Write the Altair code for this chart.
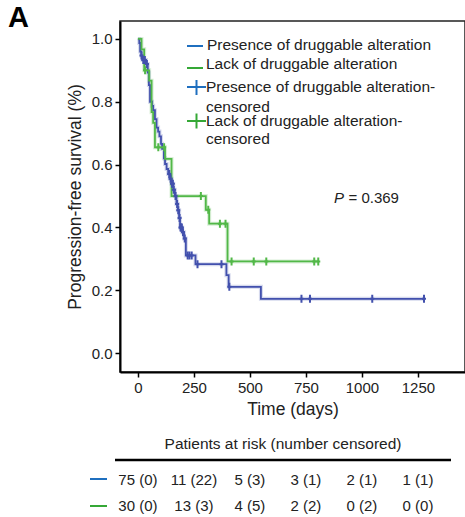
import altair as alt
import pandas as pd

# ---- Kaplan-Meier step curves ----
blue_time = [0, 6, 10, 15, 21, 36, 44, 49, 54, 63, 68, 76, 83, 90, 96, 103, 108, 116, 121, 128,
             135, 142, 150, 158, 165, 172, 178, 184, 188, 198, 206, 214, 257, 395, 405, 549, 1277]
blue_surv = [1.0, 0.987, 0.96, 0.947, 0.933, 0.92, 0.893, 0.853, 0.8, 0.787, 0.773, 0.745, 0.718,
             0.705, 0.69, 0.666, 0.65, 0.62, 0.602, 0.586, 0.57, 0.555, 0.539, 0.52, 0.50, 0.475,
             0.455, 0.43, 0.40, 0.385, 0.365, 0.311, 0.283, 0.248, 0.211, 0.173, 0.173]

green_time = [0, 16, 28, 50, 61, 68, 76, 121, 150, 303, 318, 400, 805]
green_surv = [1.0, 0.967, 0.9, 0.867, 0.767, 0.733, 0.655, 0.618, 0.5, 0.456, 0.412, 0.292, 0.292]

# ---- censored observations ----
blue_cens_time = [16, 24, 27, 31, 40, 140, 146, 152, 156, 160, 168, 175, 180, 186, 190, 193, 196,
                  201, 209, 222, 230, 240, 266, 373, 408, 730, 768, 1046, 1277]
blue_cens_surv = [0.947, 0.933, 0.933, 0.933, 0.92, 0.57, 0.555, 0.539, 0.539, 0.52, 0.50, 0.475,
                  0.455, 0.43, 0.40, 0.40, 0.40, 0.385, 0.365, 0.311, 0.311, 0.311, 0.283, 0.283,
                  0.211, 0.173, 0.173, 0.173, 0.173]

green_cens_time = [32, 91, 117, 281, 314, 366, 391, 418, 517, 573, 787, 805]
green_cens_surv = [0.9, 0.655, 0.655, 0.5, 0.456, 0.412, 0.412, 0.292, 0.292, 0.292, 0.292, 0.292]

# ---- patients at risk table ----
risk_times = [0, 250, 500, 750, 1000, 1250]
risk_presence = ["75 (0)", "11 (22)", "5 (3)", "3 (1)", "2 (1)", "1 (1)"]
risk_lack = ["30 (0)", "13 (3)", "4 (5)", "2 (2)", "0 (2)", "0 (0)"]

series_names = ["Presence", "Lack"]
curve_colors = ["#4250ad", "#52b848"]
legend_blue = "#1f6fbf"
legend_green = "#35a836"
FONT = "Liberation Sans"
TXT = "#222222"

curves = pd.concat([
    pd.DataFrame({"time": blue_time, "surv": blue_surv, "group": "Presence"}),
    pd.DataFrame({"time": green_time, "surv": green_surv, "group": "Lack"}),
])
cens = pd.concat([
    pd.DataFrame({"time": blue_cens_time, "surv": blue_cens_surv, "group": "Presence"}),
    pd.DataFrame({"time": green_cens_time, "surv": green_cens_surv, "group": "Lack"}),
])
risk = pd.concat([
    pd.DataFrame({"time": risk_times, "label": risk_presence, "row": "Presence"}),
    pd.DataFrame({"time": risk_times, "label": risk_lack, "row": "Lack"}),
])

xscale = alt.Scale(domain=[-80, 1460], nice=False, zero=False)
yscale = alt.Scale(domain=[-0.06, 1.057], nice=False, zero=False)
cscale = alt.Scale(domain=series_names, range=curve_colors)

x_axis = alt.Axis(values=[0, 250, 500, 750, 1000, 1250], format="d", grid=False,
                  domainColor="black", domainWidth=2, tickColor="black", tickWidth=1.5, tickSize=5,
                  labelFont=FONT, labelFontSize=15, labelColor=TXT, labelPadding=3,
                  title="Time (days)", titleFont=FONT, titleFontSize=17.5, titleColor=TXT,
                  titleFontWeight="normal", titlePadding=5)
y_axis = alt.Axis(values=[0, 0.2, 0.4, 0.6, 0.8, 1.0], format=".1f", grid=False,
                  domainColor="black", domainWidth=2, tickColor="black", tickWidth=1.5,
                  tickSize=5, labelFont=FONT, labelFontSize=15, labelColor=TXT, labelPadding=3,
                  title="Progression-free survival (%)", titleFont=FONT, titleFontSize=17.5,
                  titleColor=TXT, titleFontWeight="normal", titlePadding=7)

base = alt.Chart(curves)
halo = base.mark_line(interpolate="step-after", strokeWidth=4, opacity=0.22).encode(
    x=alt.X("time:Q", scale=xscale, axis=x_axis),
    y=alt.Y("surv:Q", scale=yscale, axis=y_axis),
    color=alt.Color("group:N", scale=cscale, legend=None),
)
lines = base.mark_line(interpolate="step-after", strokeWidth=1.8).encode(
    x=alt.X("time:Q", scale=xscale),
    y=alt.Y("surv:Q", scale=yscale),
    color=alt.Color("group:N", scale=cscale, legend=None),
)
cross_path = "M0,-1L0,1M-0.5,0L0.5,0"
marks = alt.Chart(cens).mark_point(shape=cross_path, size=64, filled=False, strokeWidth=2,
                                   opacity=1).encode(
    x=alt.X("time:Q", scale=xscale),
    y=alt.Y("surv:Q", scale=yscale),
    color=alt.Color("group:N", scale=cscale, legend=None),
)

one = pd.DataFrame({"k": [0]})


def txt(s, x, y, size=15, **kw):
    return alt.Chart(one).mark_text(font=FONT, fontSize=size, color=TXT, align=kw.pop("align", "left"),
                                    baseline="middle", **kw).encode(
        x=alt.value(x), y=alt.value(y), text=alt.value(s))


def seg(x1, x2, y1, y2, color, w=2):
    return alt.Chart(one).mark_rule(color=color, strokeWidth=w).encode(
        x=alt.value(x1), x2=alt.value(x2), y=alt.value(y1), y2=alt.value(y2))


LS = 15.5
legend = [
    seg(67, 83, 25, 25, legend_blue),
    txt("Presence of druggable alteration", 87, 24, size=LS),
    seg(67, 83, 47, 47, legend_green),
    txt("Lack of druggable alteration", 86, 42.5, size=LS),
    seg(67, 86, 66, 66, legend_blue), seg(76.5, 76.5, 59, 74, legend_blue),
    txt("Presence of druggable alteration-", 86, 66, size=LS),
    txt("censored", 86, 85.5, size=LS),
    seg(67, 86, 100, 100, legend_green), seg(76.5, 76.5, 92.5, 107.5, legend_green),
    txt("Lack of druggable alteration-", 86, 100, size=LS),
    txt("censored", 86, 118, size=LS),
]

pval = [
    txt("P", 214, 177, fontStyle="italic"),
    txt("= 0.369", 228.5, 177),
]

panel = alt.Chart(one).mark_text(font=FONT, fontSize=29, fontWeight="bold", color="black",
                                 align="left", baseline="middle").encode(
    x=alt.value(-112), y=alt.value(-3), text=alt.value("A"))

table = [
    txt("Patients at risk (number censored)", 163, 423, size=15.5, align="center"),
    seg(-5, 331, 439, 439, "black", w=2.5),
    seg(-30, -13, 458, 458, legend_blue),
    seg(-30, -13, 485, 485, legend_green),
    alt.Chart(risk[risk.row == "Presence"]).mark_text(font=FONT, fontSize=15, color=TXT,
                                                      align="center", baseline="middle").encode(
        x=alt.X("time:Q", scale=xscale), y=alt.value(458.5), text="label:N"),
    alt.Chart(risk[risk.row == "Lack"]).mark_text(font=FONT, fontSize=15, color=TXT,
                                                  align="center", baseline="middle").encode(
        x=alt.X("time:Q", scale=xscale), y=alt.value(485), text="label:N"),
]

chart = alt.layer(halo, lines, marks, *legend, *pval, panel, *table).properties(
    width=345, height=351,
    autosize=alt.AutoSizeParams(type="none"),
    padding={"left": 120, "top": 21, "right": 0, "bottom": 145},
).configure_view(stroke="#222222", strokeWidth=1.5)

chart.save("out.html", embed_options={"renderer": "svg", "actions": False})
